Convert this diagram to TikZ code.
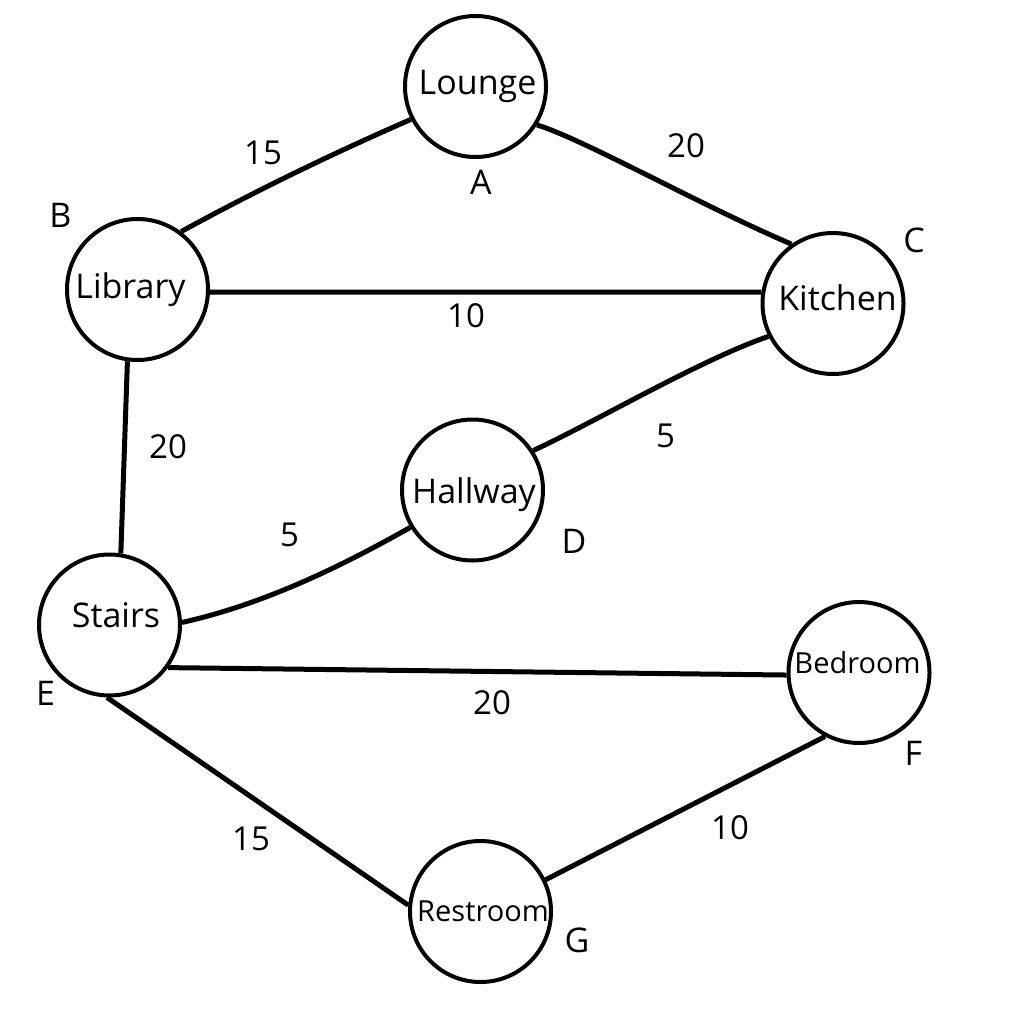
\documentclass[tikz,border=0pt]{standalone}
\usepackage{fontspec}
\setmainfont{Open Sans}
\begin{document}
\begin{tikzpicture}[x=1pt,y=-1pt,
  room/.style={circle,draw=black,line width=4pt,minimum size=141pt,inner sep=0pt},
  roomname/.style={anchor=base,inner sep=0pt,font=\fontsize{34}{40}\selectfont},
  smallname/.style={anchor=base,inner sep=0pt,font=\fontsize{29}{34}\selectfont},
  tag/.style={anchor=base,inner sep=0pt,font=\fontsize{34}{40}\selectfont},
  weight/.style={anchor=base,inner sep=0pt,font=\fontsize{33}{40}\selectfont},
  edge/.style={draw=black,line width=5pt}]
\useasboundingbox (0,0) rectangle (1024,1024);

% rooms
\node[room] (lounge)   at (475.5,86.5) {};
\node[room] (library)  at (137.5,289.5) {};
\node[room] (kitchen)  at (833,303.5) {};
\node[room] (hallway)  at (472.5,490) {};
\node[room] (stairs)   at (109.5,625) {};
\node[room] (bedroom)  at (859,672.5) {};
\node[room] (restroom) at (480.5,911.5) {};

% room names
\node[roomname]  (loungeName)   at (477.5,95)  {Lounge};
\node[roomname]  (libraryName)  at (130.5,298) {Library};
\node[roomname]  (kitchenName)  at (837.5,310) {Kitchen};
\node[roomname]  (hallwayName)  at (474,503)   {Hallway};
\node[roomname]  (stairsName)   at (116,627)   {Stairs};
\node[smallname] (bedroomName)  at (857.5,673) {Bedroom};
\node[smallname] (restroomName) at (483,921)   {Restroom};

% vertex letters
\node[tag] (tagA) at (481,195)   {A};
\node[tag] (tagB) at (60.5,228)  {B};
\node[tag] (tagC) at (914,252)   {C};
\node[tag] (tagD) at (574,553)   {D};
\node[tag] (tagE) at (45.5,705)  {E};
\node[tag] (tagF) at (913.5,765) {F};
\node[tag] (tagG) at (577,952)   {G};

% corridors
\draw[edge] (library.53) .. controls (259,189) and (334,153) .. (lounge.207);
\draw[edge] (lounge.-32) .. controls (585,140) and (700,205) .. (kitchen.125);
\draw[edge] (library.-2.4) -- (kitchen.171);
\draw[edge] (kitchen.207.6) .. controls (700,360) and (595,422) .. (hallway.33.5);
\draw[edge] (library.262.6) -- (stairs.81.7);
\draw[edge] (stairs.2.3) .. controls (260,605) and (335,570) .. (hallway.211.4);
\draw[edge] (stairs.-36.8) -- (bedroom.182.4);
\draw[edge] (stairs.268.9) -- (restroom.175.7);
\draw[edge] (restroom.26.4) -- (bedroom.242);

% distances
\node[weight] (wAB) at (263,165) {15};
\node[weight] (wAC) at (686,158) {20};
\node[weight] (wBC) at (466,327) {10};
\node[weight] (wCD) at (665.5,447) {5};
\node[weight] (wBE) at (168,458) {20};
\node[weight] (wDE) at (289.5,546) {5};
\node[weight] (wEF) at (492,714) {20};
\node[weight] (wEG) at (251,850) {15};
\node[weight] (wFG) at (730,839) {10};
\end{tikzpicture}
\end{document}
